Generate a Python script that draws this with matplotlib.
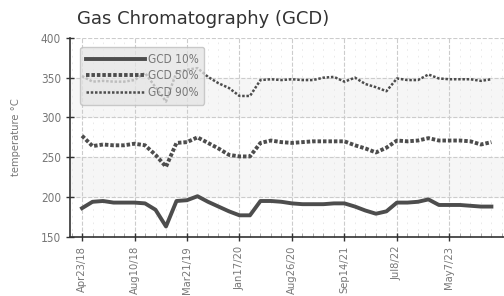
import matplotlib
matplotlib.use("Agg")
import matplotlib.pyplot as plt
from matplotlib.ticker import MultipleLocator

# data
dates = ["Apr23/18", "Aug10/18", "Mar21/19", "Jan17/20",
         "Aug26/20", "Sep14/21", "Jul8/22", "May7/23"]

gcd10 = [186, 194, 195, 193, 193, 193, 192, 184, 163, 195,
         196, 201, 194, 188, 182, 177, 177, 195, 195, 194,
         192, 191, 191, 191, 192, 192, 188, 183, 179, 182,
         193, 193, 194, 197, 190, 190, 190, 189, 188, 188]
gcd50 = [277, 264, 266, 265, 265, 267, 265, 253, 238, 268,
         269, 275, 268, 261, 253, 251, 251, 268, 271, 269,
         268, 269, 270, 270, 270, 270, 265, 261, 256, 262,
         271, 270, 271, 274, 271, 271, 271, 270, 266, 269]
gcd90 = [352, 345, 346, 345, 345, 347, 356, 338, 320, 357,
         360, 362, 351, 343, 337, 327, 327, 347, 348, 347,
         348, 347, 347, 350, 351, 345, 350, 342, 338, 333,
         349, 347, 347, 354, 349, 348, 348, 348, 346, 348]

plt.rcParams['font.family'] = ['DejaVu Sans']
plt.rcParams['font.stretch'] = 'condensed'

fig = plt.figure(figsize=(5.04, 2.96), dpi=100)
ax = fig.add_axes([0.139, 0.2, 0.861, 0.672])

idx = list(range(len(gcd10)))
col = '#4d4d4d'
ax.plot(idx, gcd10, color=col, lw=2.8, label='GCD 10%')
ax.plot(idx, gcd50, color=col, lw=2.8, ls=(0, (0.9, 0.5)), label='GCD 50%')
ax.plot(idx, gcd90, color=col, lw=1.8, ls=(0, (1, 0.7)), label='GCD 90%')

# alternating bands
for lo in (200, 300):
    ax.axhspan(lo, lo + 50, color='#f6f6f6', zorder=0)

ax.set_ylim(150, 400)
ax.set_xlim(-1.14, 40.2)
ax.yaxis.set_major_locator(MultipleLocator(50))
ax.set_xticks(range(0, 40, 5))
ax.set_xticklabels(dates, rotation=90)
ax.xaxis.set_minor_locator(MultipleLocator(1))

ax.grid(True, which='major', ls='--', color='#cccccc', lw=0.8)
ax.grid(True, which='minor', axis='x', ls=(0, (2, 6)), color='#e6e6e6', lw=0.6)
ax.set_axisbelow(True)

for s in ('top', 'right'):
    ax.spines[s].set_visible(False)
for s in ('left', 'bottom'):
    ax.spines[s].set_color('#333333')
    ax.spines[s].set_linewidth(1.2)

ax.tick_params(which='major', direction='inout', length=6, width=1,
               color='#333333', labelcolor='#777777', labelsize=8)
ax.tick_params(axis='y', labelsize=8.5)
ax.tick_params(which='minor', direction='in', length=3, width=0.6,
               color='#999999')
ax.tick_params(axis='y', which='minor', left=False)

ax.set_ylabel('temperature °C', color='#777777', fontsize=8, labelpad=14)

leg = ax.legend(loc='upper left', frameon=True, fancybox=True,
                handlelength=5.0, fontsize=8.5, labelspacing=0.3,
                handletextpad=0.2, borderpad=0.5,
                bbox_to_anchor=(0.01, 0.985))
leg.get_frame().set_facecolor('#e4e4e4')
leg.get_frame().set_edgecolor('#bbbbbb')
leg.get_frame().set_alpha(0.75)
for t in leg.get_texts():
    t.set_color('#777777')

fig.text(0.153, 0.935, 'Gas Chromatography (GCD)', fontsize=13,
         color='#333333', family='DejaVu Sans', stretch='normal', va='center')

fig.savefig('out.png', dpi=100)
